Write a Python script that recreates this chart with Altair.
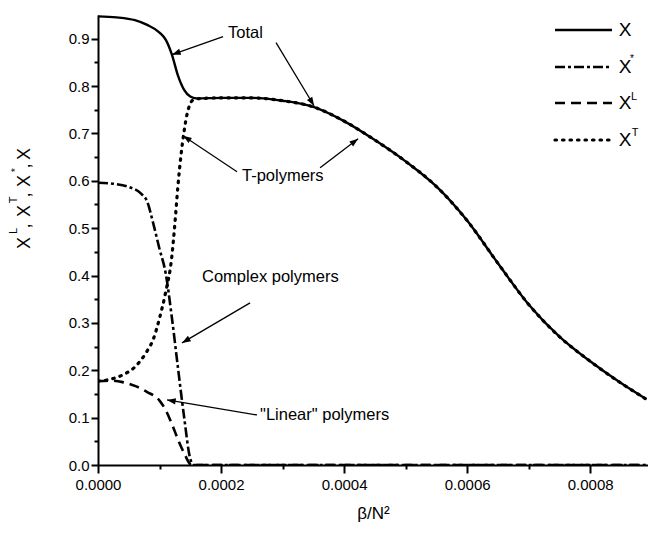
import math
import altair as alt
import pandas as pd

FONT = "Liberation Sans"

# beta/N^2 grid and the fraction of each polymer type
x_total = [0.0, 0.00003, 0.00006, 0.00008, 0.00010, 0.00011, 0.00012, 0.00013, 0.00014,
           0.00015, 0.00016, 0.00020, 0.00025, 0.00030, 0.00035, 0.00040, 0.00045, 0.00050,
           0.00055, 0.00060, 0.00065, 0.00070, 0.00075, 0.00080, 0.00085, 0.00089]
frac_total = [0.947, 0.945, 0.939, 0.929, 0.913, 0.898, 0.867, 0.822, 0.792,
              0.778, 0.774, 0.775, 0.775, 0.769, 0.756, 0.726, 0.686, 0.641,
              0.588, 0.516, 0.426, 0.339, 0.271, 0.219, 0.173, 0.140]

x_complex = [0.0, 0.00003, 0.00005, 0.00007, 0.00008, 0.00009, 0.00010, 0.00011, 0.00012,
             0.00013, 0.00014, 0.00015, 0.000156, 0.00020, 0.00040, 0.00060, 0.00080, 0.00089]
frac_complex = [0.596, 0.593, 0.587, 0.573, 0.556, 0.509, 0.456, 0.405, 0.312,
                0.205, 0.101, 0.013, 0.0, 0.0, 0.0, 0.0, 0.0, 0.0]

x_linear = [0.0, 0.00002, 0.00004, 0.00006, 0.00008, 0.00010, 0.00011, 0.00012, 0.00013,
            0.00014, 0.000152, 0.00020, 0.00040, 0.00060, 0.00080, 0.00089]
frac_linear = [0.177, 0.178, 0.175, 0.167, 0.154, 0.136, 0.116, 0.087, 0.054,
               0.025, 0.0, 0.0, 0.0, 0.0, 0.0, 0.0]

x_tree = [0.0, 0.00002, 0.00004, 0.00006, 0.00008, 0.00009, 0.00010, 0.00011, 0.00012,
          0.000125, 0.00013, 0.000135, 0.00014, 0.000145, 0.00015, 0.000155, 0.00016,
          0.00020, 0.00025, 0.00030, 0.00035, 0.00040, 0.00045, 0.00050, 0.00055, 0.00060,
          0.00065, 0.00070, 0.00075, 0.00080, 0.00085, 0.00089]
frac_tree = [0.177, 0.181, 0.190, 0.207, 0.241, 0.266, 0.310, 0.365, 0.440,
             0.510, 0.590, 0.655, 0.705, 0.742, 0.763, 0.771, 0.773,
             0.775, 0.775, 0.769, 0.756, 0.726, 0.686, 0.641, 0.588, 0.516,
             0.426, 0.339, 0.271, 0.219, 0.173, 0.140]

# axis ticks (major + minor)
x_ticks = [0.0, 0.0001, 0.0002, 0.0003, 0.0004, 0.0005, 0.0006, 0.0007, 0.0008]
y_ticks = [0.0, 0.05, 0.1, 0.15, 0.2, 0.25, 0.3, 0.35, 0.4, 0.45, 0.5, 0.55,
           0.6, 0.65, 0.7, 0.75, 0.8, 0.85, 0.9]

# annotation labels
label_text = ["Total", "T-polymers", "Complex polymers", "\"Linear\" polymers"]
label_x = [0.0002114, 0.0002341, 0.0001691, 0.0002634]
label_y = [0.9127, 0.6106, 0.3972, 0.1056]

# annotation arrows: tail -> tip
arrow_x0 = [0.0002033, 0.0002894, 0.0002260, 0.0003610, 0.0002472, 0.0002585]
arrow_y0 = [0.9043, 0.8916, 0.6191, 0.6275, 0.3423, 0.1056]
arrow_x1 = [0.0001203, 0.0003512, 0.0001382, 0.0004228, 0.0001366, 0.0001122]
arrow_y1 = [0.8663, 0.7584, 0.6952, 0.6888, 0.2578, 0.1373]

W, H = 550, 450
X_MAX = 0.000894
Y_MAX = 0.95

xscale = alt.Scale(domain=[0, X_MAX], nice=False, zero=False)
yscale = alt.Scale(domain=[0, Y_MAX], nice=False, zero=False)

MAJOR_X = "abs(datum.value*5000 - round(datum.value*5000)) < 0.001"
MAJOR_Y = "abs(datum.value*10 - round(datum.value*10)) < 0.001"

x_axis = alt.Axis(
    values=x_ticks,
    labelExpr=f"{MAJOR_X} ? format(datum.value, '.4f') : ''",
    tickSize={"condition": {"test": MAJOR_X, "value": 8}, "value": 4},
    labelPadding=4,
    title="β/N²",
    titleFontSize=17,
    titlePadding=13,
    labelFlush=False,
    labelOverlap=False,
)
y_axis = alt.Axis(
    values=y_ticks,
    labelExpr=f"{MAJOR_Y} ? format(datum.value, '.1f') : ''",
    tickSize={"condition": {"test": MAJOR_Y, "value": 7}, "value": 4},
    labelPadding=2,
    title=None,
    labelFlush=False,
    labelOverlap=False,
)


def xenc(field):
    return alt.X(field, scale=xscale, axis=x_axis)


def yenc(field):
    return alt.Y(field, scale=yscale, axis=y_axis)


def curve(xs, ys, width, dash=None, cap="butt"):
    df = pd.DataFrame({"b": xs, "f": ys})
    kw = dict(color="black", strokeWidth=width, strokeCap=cap,
              interpolate="monotone", clip=True)
    if dash is not None:
        kw["strokeDash"] = dash
    return alt.Chart(df).mark_line(**kw).encode(x=xenc("b:Q"), y=yenc("f:Q"))


DASH_COMPLEX = [10, 3, 3, 3]
DASH_LINEAR = [10, 6]
DASH_TREE = [1.5, 6]

lines = [
    curve(x_total, frac_total, 2.4),
    curve(x_complex, frac_complex, 2.6, DASH_COMPLEX),
    curve(x_linear, frac_linear, 2.6, DASH_LINEAR),
    curve(x_tree, frac_tree, 3.2, DASH_TREE, cap="round"),
]

# annotation text
labels_df = pd.DataFrame({"b": label_x, "f": label_y, "t": label_text})
labels = alt.Chart(labels_df).mark_text(
    align="left", baseline="middle", font=FONT, fontSize=16.5, color="black"
).encode(x=xenc("b:Q"), y=yenc("f:Q"), text="t:N")

# arrows: shaft + filled head rotated along the shaft
px_x = W / X_MAX
px_y = H / Y_MAX
angles = []
for x0, y0, x1, y1 in zip(arrow_x0, arrow_y0, arrow_x1, arrow_y1):
    dx = (x1 - x0) * px_x
    dy = -(y1 - y0) * px_y
    angles.append(math.degrees(math.atan2(dy, dx)) % 360)

arrows_df = pd.DataFrame({"b": arrow_x0, "f": arrow_y0, "b1": arrow_x1,
                          "f1": arrow_y1, "ang": angles})
shafts = alt.Chart(arrows_df).mark_rule(color="black", strokeWidth=1.3).encode(
    x=xenc("b:Q"), y=yenc("f:Q"), x2="b1:Q", y2="f1:Q",
)
heads = alt.Chart(arrows_df).mark_point(
    shape="M0,0L-1,-0.36L-1,0.36Z", filled=True, size=300, color="black",
    opacity=1, strokeWidth=0
).encode(
    x=xenc("b1:Q"), y=yenc("f1:Q"),
    angle=alt.Angle("ang:Q", scale=None),
)

one = pd.DataFrame({"k": [0]})


def txt(s, x, y, size, angle=0):
    return alt.Chart(one).mark_text(
        text=s, font=FONT, fontSize=size, color="black", align="center",
        baseline="middle", angle=angle
    ).encode(x=alt.value(x), y=alt.value(y))


def key_line(y, width, dash=None, cap="butt"):
    kw = dict(color="black", strokeWidth=width, strokeCap=cap)
    if dash is not None:
        kw["strokeDash"] = dash
    return alt.Chart(one).mark_rule(**kw).encode(
        x=alt.value(457), x2=alt.value(514), y=alt.value(y)
    )


legend = [
    key_line(15, 2.4), txt("X", 527, 15, 19),
    key_line(52, 2.6, DASH_COMPLEX), txt("X", 527, 52, 19), txt("*", 534, 44, 10),
    key_line(88, 2.6, DASH_LINEAR), txt("X", 527, 88, 19), txt("L", 536, 82, 11),
    key_line(125, 3.2, DASH_TREE, "round"), txt("X", 527, 125, 19), txt("T", 537, 118, 11),
]

# rotated y-axis title: X^L, X^T, X^*, X
ytitle = [
    txt("X", -73.5, 228, 18, 270), txt("L", -84, 216, 11, 270), txt(",", -73.5, 211, 18, 270),
    txt("X", -73.5, 196, 18, 270), txt("T", -84, 185, 11, 270), txt(",", -73.5, 180, 18, 270),
    txt("X", -73.5, 166, 18, 270), txt("*", -82, 155, 11, 270), txt(",", -73.5, 151, 18, 270),
    txt("X", -73.5, 139, 18, 270),
]

chart = alt.layer(*lines, shafts, heads, labels, *legend, *ytitle).properties(
    width=W,
    height=H,
    autosize=alt.AutoSizeParams(type="none"),
    padding={"left": 98, "top": 15, "right": 0, "bottom": 72},
).configure_view(stroke=None).configure_axis(
    domainColor="black", domainWidth=2, tickColor="black", tickWidth=2,
    labelColor="black", labelFont=FONT, labelFontSize=15, grid=False,
    titleFont=FONT, titleFontWeight="normal", titleColor="black",
)

chart.save("out.html", embed_options={"renderer": "svg", "actions": False})
